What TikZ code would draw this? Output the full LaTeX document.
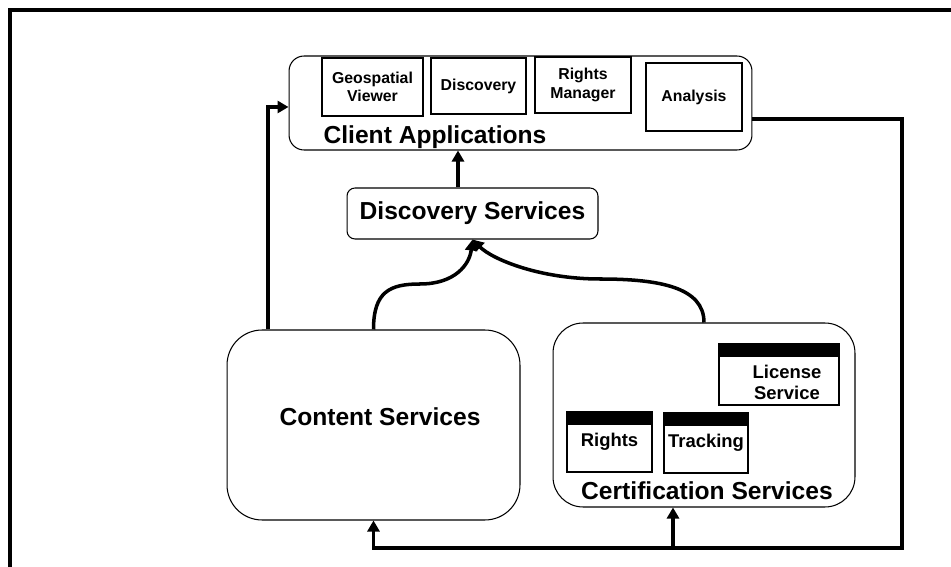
\documentclass[tikz,border=0pt]{standalone}
\usepackage{fontspec}
\setmainfont{Liberation Sans}
\usetikzlibrary{arrows.meta}

\begin{document}
\begin{tikzpicture}[x=0.02cm, y=-0.02cm,
  every node/.style={font=\bfseries},
  group/.style={draw, line width=0.6pt, rounded corners=#1, inner sep=0pt},
  group/.default=0.3cm,
  appbox/.style={draw, line width=0.8pt, align=center, inner sep=0pt,
    font=\bfseries\fontsize{9}{10.5}\selectfont},
  svcbox/.style={draw, line width=0.8pt, align=center, inner sep=0pt,
    font=\bfseries\fontsize{10.5}{12}\selectfont,
    path picture={\fill (path picture bounding box.north west) rectangle
      ([yshift=-0.25cm]path picture bounding box.north east);}},
  svctext/.style={align=center, font=\bfseries\fontsize{10.5}{12}\selectfont},
  biglabel/.style={font=\bfseries\fontsize{14}{16}\selectfont},
  link/.style={line width=2pt},
  arr/.style={link, -{Triangle[length=0.22cm,width=0.24cm]}}]
\useasboundingbox (0,0) rectangle (951,567);

% frame
\draw[line width=2pt] (951,10) -- (10,10) -- (10,567);

% client applications
\node[group, minimum width=9.26cm, minimum height=1.88cm] (client) at (520.5,103) {};
\node[appbox, minimum width=2.02cm, minimum height=1.16cm] (geo) at (372.5,87) {Geospatial\\Viewer};
\node[appbox, minimum width=1.9cm, minimum height=1.12cm] (discapp) at (478.5,86) {Discovery};
\node[appbox, minimum width=1.92cm, minimum height=1.12cm] (rmgr) at (583,85) {Rights\\Manager};
\node[appbox, minimum width=1.92cm, minimum height=1.36cm] (analysis) at (694,97) {Analysis};
\node[biglabel] (clientlbl) at (435,137) {Client Applications};

\node[group=0.16cm, biglabel, minimum width=5.02cm, minimum height=1.02cm] (disc) at (472.5,213.5) {Discovery Services};

\node[group=0.7cm, minimum width=5.86cm, minimum height=3.8cm] (content) at (373.5,425) {};
\node[biglabel] (contentlbl) at (380,417) {Content Services};

% certification services
\node[group=0.6cm, minimum width=6.04cm, minimum height=3.68cm] (cert) at (704,415) {};
\node[svcbox, minimum width=2.4cm, minimum height=1.22cm] (license) at (779,374.5) {};
\node[svctext] (lictext) at (787,382) {License\\Service};
\node[svcbox, minimum width=1.7cm, minimum height=1.2cm] (rights) at (609.5,442) {Rights};
\node[svcbox, minimum width=1.68cm, minimum height=1.2cm] (tracking) at (706,443) {Tracking};
\node[biglabel] (certlbl) at (707,491) {Certification Services};

\coordinate (up) at ([xshift=-0.29cm]disc.north);
\coordinate (cl) at ([xshift=-2.11cm]content.north);
\coordinate (ci) at ([yshift=-0.08cm]client.west);
\coordinate (ce) at ([yshift=-0.32cm]client.east);
\coordinate (loop) at (902,548);
\coordinate (cb) at ([xshift=-0.62cm]cert.south);
\coordinate (lbend) at (420,284);
\coordinate (rbend) at (600,279);

\draw[arr] (up) -- (up |- client.south);
\draw[arr] (cl) |- (ci);
\draw[arr] (content.north) .. controls +(0,-38) and +(-30,0) .. (lbend)
  .. controls +(35,0) and +(-3,25) .. (disc.south);
\draw[arr] (cert.north) .. controls +(0,-35) and +(60,0) .. (rbend)
  .. controls +(-60,0) and +(20,20) .. (disc.south);
\draw[arr] (ce) -| (loop) -| (content.south);
\draw[arr] (cb |- loop) -- (cb);
\end{tikzpicture}
\end{document}
